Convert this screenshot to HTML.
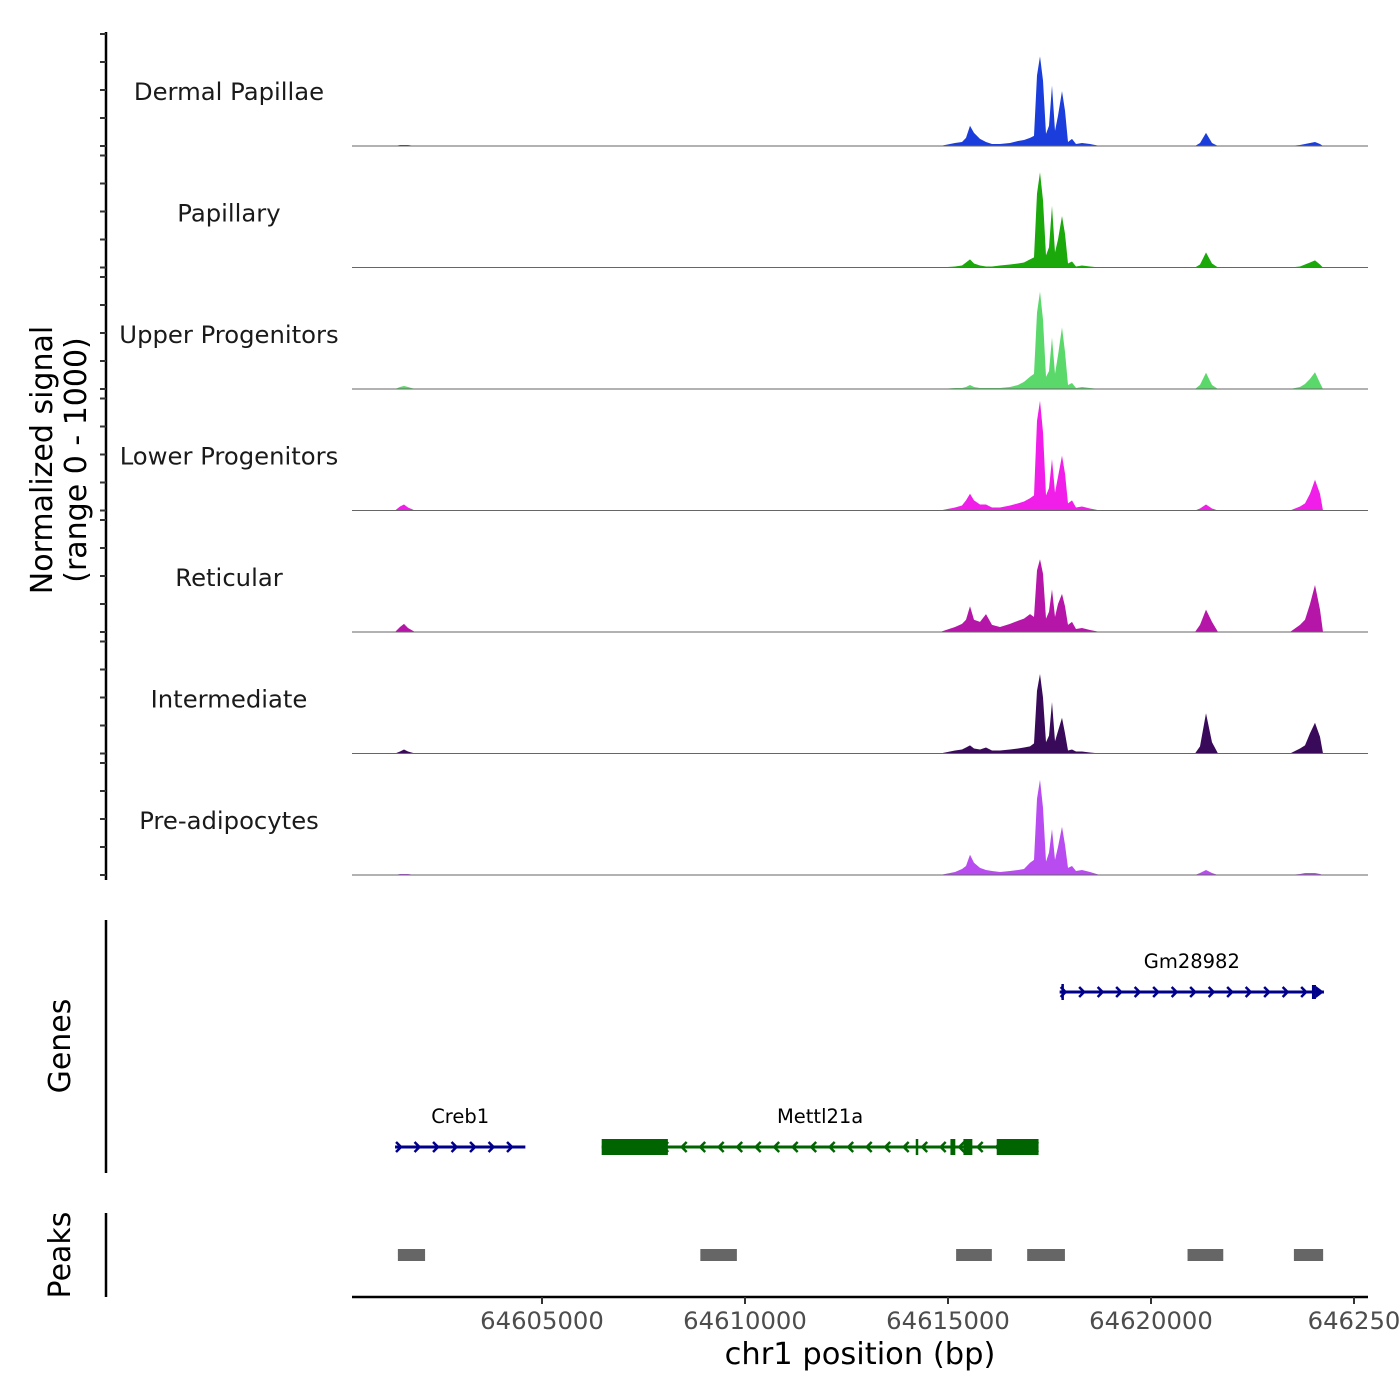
<!DOCTYPE html>
<html><head><meta charset="utf-8"><style>
body{margin:0;background:#fff}
svg{display:block;font-family:"DejaVu Sans","Liberation Sans",sans-serif}
</style></head><body>
<svg id="chart" width="1400" height="1400" viewBox="0 0 1400 1400" xmlns="http://www.w3.org/2000/svg"></svg>
<script>
const trackNames=["Dermal Papillae","Papillary","Upper Progenitors","Lower Progenitors","Reticular","Intermediate","Pre-adipocytes"];
const trackColors=["#1a3ddb","#1aa80a","#5ad86a","#f01ee8","#b616a8","#3a0a5a","#b84cf0"];
const positions=[64601379,64601502,64601601,64601699,64601872,
64614802,64615172,64615344,64615443,64615541,64615640,64615787,64615935,64616083,64616280,64616526,64616723,64616871,64617019,64617118,64617192,64617265,64617339,64617413,64617487,64617561,64617635,64617709,64617807,64617881,64617955,64618054,64618152,64618300,64618497,64618743,
64621083,64621206,64621354,64621502,64621650,
64623423,64623669,64623793,64623916,64624039,64624162,64624236];
const sigDP=[0,9,9,9,0, 0,27,36,72,180,117,63,36,18,18,27,45,54,72,90,630,800,585,108,180,540,135,270,490,315,36,63,18,27,18,0, 0,27,117,27,0, 0,9,18,27,36,18,0];
const sigPap=[0,0,0,0,0, 0,9,18,45,72,36,18,9,9,18,27,36,45,72,90,660,850,600,108,180,550,135,250,460,300,36,54,9,18,9,0, 0,27,135,36,0, 0,9,27,45,63,27,0];
const sigUp=[0,18,27,18,0, 0,9,9,18,36,18,9,9,9,9,18,36,63,110,135,680,870,620,108,160,460,135,300,550,330,36,54,9,18,9,0, 0,36,145,36,0, 0,18,45,90,150,54,0];
const sigLow=[0,36,54,27,0, 0,27,45,90,150,90,54,54,27,27,45,63,80,110,135,800,980,700,135,200,460,160,300,490,330,63,90,27,36,18,0, 0,18,54,18,0, 0,36,63,150,275,150,0];
const sigRet=[0,45,72,36,0, 0,45,72,110,230,110,90,160,63,45,72,100,120,160,135,550,650,520,120,180,380,135,250,340,230,63,90,27,36,18,0, 0,63,200,90,0, 0,63,110,250,420,200,0];
const sigInt=[0,18,36,18,0, 0,27,36,54,72,45,36,54,27,27,36,45,54,63,90,560,710,500,100,160,460,110,200,320,180,27,36,18,18,9,0, 0,63,360,100,0, 0,45,72,180,275,150,0];
const sigPre=[0,9,9,9,0, 0,27,54,80,180,110,63,45,36,27,36,45,54,110,135,680,850,600,120,200,410,135,250,430,270,63,80,36,45,27,0, 0,18,45,18,0, 0,9,18,18,18,9,0];
const signals=[sigDP,sigPap,sigUp,sigLow,sigRet,sigInt,sigPre];
const xTicks=[64605000,64610000,64615000,64620000,64625000];
const xTickLabels=["64605000","64610000","64615000","64620000","646250"];
const peakStarts=[64601450,64608900,64615200,64616950,64620900,64623520];
const peakEnds=[64602120,64609800,64616080,64617880,64621780,64624240];
const geneNames=["Gm28982","Creb1","Mettl21a"];
const geneStarts=[64617750,64601380,64606470];
const geneEnds=[64624260,64604590,64617230];
const geneStrand=[1,1,-1];
const geneColors=["#00008b","#00008b","#006400"];
const geneRow=[0,1,1];
const mettlExonStarts=[64606470,64616200,64615060,64615380];
const mettlExonEnds=[64608100,64617230,64615180,64615600];

const X0=352,X1=1368,D0=64600320,D1=64625345;
const xs=v=>X0+(v-D0)/(D1-D0)*(X1-X0);
const baseY=i=>146+i*121.5;
const ys=(i,v)=>baseY(i)-v*0.112;
const svg=document.getElementById('chart');
const NS="http://www.w3.org/2000/svg";
function mk(tag,attrs,parent){const e=document.createElementNS(NS,tag);for(const k in attrs)e.setAttribute(k,attrs[k]);(parent||svg).appendChild(e);return e;}

let ax=mk('line',{x1:106,y1:32,x2:106,y2:880,stroke:'#000','stroke-width':2.5});


for(let i=0;i<7;i++){
  for(let t=0;t<=1000;t+=250){
    const y=ys(i,t);
    let tk=mk('line',{x1:100,y1:y,x2:106,y2:y,stroke:'#333','stroke-width':2});
    
    
  }
}
let yt=mk('text',{x:0,y:0,'font-size':30,'text-anchor':'middle',fill:'#000',transform:'translate(52,460) rotate(-90)'});


mk('tspan',{x:0,dy:0},yt).textContent='Normalized signal';
mk('tspan',{x:0,dy:34},yt).textContent='(range 0 - 1000)';

for(let i=0;i<7;i++){
  const g=mk('g',{});
  
  
  let lb=mk('text',{x:229,y:baseY(i)-46,'font-size':24.3,'text-anchor':'middle',fill:'#1a1a1a'},g);
  lb.textContent=trackNames[i];
  
  
  const s=signals[i];
  let d='M'+xs(positions[0])+','+baseY(i);
  for(let j=0;j<positions.length;j++)d+=' L'+xs(positions[j]).toFixed(1)+','+ys(i,s[j]).toFixed(1);
  d+=' L'+xs(positions[positions.length-1])+','+baseY(i)+' Z';
  let a=mk('path',{d:d,fill:trackColors[i]},g);
  
  
  let bl=mk('line',{x1:X0,y1:baseY(i),x2:X1,y2:baseY(i),stroke:'#666','stroke-width':1},g);
  
  
}

let gax=mk('line',{x1:106,y1:920,x2:106,y2:1173,stroke:'#000','stroke-width':2.5});


let gt=mk('text',{x:0,y:0,'font-size':30,'text-anchor':'middle',transform:'translate(70,1046) rotate(-90)'});
gt.textContent='Genes';


for(let i=0;i<geneNames.length;i++){
  const g=mk('g',{});
  
  
  const y=geneRow[i]?1147:992, a=xs(geneStarts[i]), b=xs(geneEnds[i]), c=geneColors[i];
  mk('line',{x1:a,y1:y,x2:b,y2:y,stroke:c,'stroke-width':3},g);
  for(let x=a+6;x<b-4;x+=18.5){
    const dx=geneStrand[i]*5;
    mk('polyline',{points:(x-dx)+','+(y-5)+' '+x+','+y+' '+(x-dx)+','+(y+5),fill:'none',stroke:c,'stroke-width':2.5},g);
  }
  if(i===0){mk('line',{x1:a+3,y1:y-8,x2:a+3,y2:y+8,stroke:c,'stroke-width':2.5},g);mk('rect',{x:b-12,y:y-7,width:4,height:14,fill:c},g);mk('polygon',{points:(b-8)+','+(y-6)+' '+b+','+y+' '+(b-8)+','+(y+6),fill:c},g);}
  if(i===2){for(let k=0;k<mettlExonStarts.length;k++){const e1=xs(mettlExonStarts[k]),e2=xs(mettlExonEnds[k]);mk('rect',{x:e1,y:y-8,width:Math.max(3,e2-e1),height:16,fill:c},g);}
    mk('line',{x1:917,y1:y-8,x2:917,y2:y+8,stroke:c,'stroke-width':2.5},g);}
  let t=mk('text',{x:(a+b)/2,y:y-24,'font-size':19.5,'text-anchor':'middle',fill:'#000'},g);
  t.textContent=geneNames[i];
}

let pax=mk('line',{x1:106,y1:1213,x2:106,y2:1297,stroke:'#000','stroke-width':2.5});


let pt=mk('text',{x:0,y:0,'font-size':30,'text-anchor':'middle',transform:'translate(70,1255) rotate(-90)'});
pt.textContent='Peaks';


for(let i=0;i<peakStarts.length;i++){
  let r=mk('rect',{x:xs(peakStarts[i]),y:1249,width:xs(peakEnds[i])-xs(peakStarts[i]),height:12,fill:'#666'});
  
  
}

let xa=mk('line',{x1:X0,y1:1297,x2:X1,y2:1297,stroke:'#000','stroke-width':2.5});


for(let i=0;i<xTicks.length;i++){
  const x=xs(xTicks[i]);
  let tk=mk('line',{x1:x,y1:1297,x2:x,y2:1304,stroke:'#333','stroke-width':2});
  
  
  let t=mk('text',{x:x,y:1329,'font-size':24.3,'text-anchor':'middle',fill:'#4d4d4d'});
  t.textContent=xTickLabels[i];
  
  
}
let xt=mk('text',{x:860,y:1364,'font-size':30.5,'text-anchor':'middle',fill:'#000'});
xt.textContent='chr1 position (bp)';


</script>
</body></html>
